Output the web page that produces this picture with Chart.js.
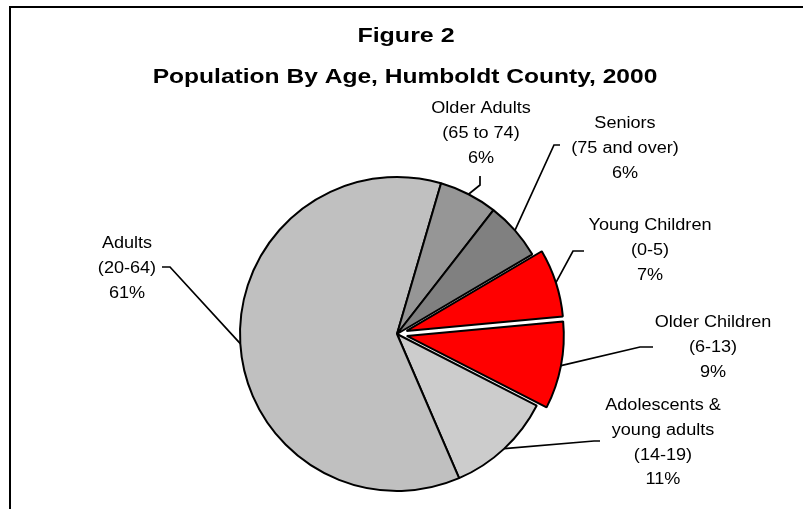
<!DOCTYPE html>
<html>
<head>
<meta charset="utf-8">
<script src="https://cdn.jsdelivr.net/npm/chart.js@4/dist/chart.umd.min.js"></script>
<style>
  html, body { margin: 0; padding: 0; background: #fff; }
  canvas { display: block; }
</style>
</head>
<body>
<canvas id="pie" width="803" height="509"></canvas>
<script>
// chart data
const categories = [
  ['Young Children', '(0-5)'],
  ['Older Children', '(6-13)'],
  ['Adolescents &', 'young adults', '(14-19)'],
  ['Adults', '(20-64)'],
  ['Older Adults', '(65 to 74)'],
  ['Seniors', '(75 and over)']
];
const percents = [7, 9, 11, 61, 6, 6];
const exploded = [true, true, false, false, false, false];
const titleLines = ['Figure 2', 'Population By Age, Humboldt County, 2000'];

// styling
const sliceColors = ['#FF0000', '#FF0000', '#CCCCCC', '#C0C0C0', '#969696', '#808080'];
const FONT = '"Liberation Sans", Arial, sans-serif';
const explodeDist = 10;

// where each label block sits and the elbow of its leader line
const labelLayout = [
  { x: 650, y: 230, leader: [[584, 251], [573, 251]] },
  { x: 713, y: 327, leader: [[653, 347], [640, 347]] },
  { x: 663, y: 410, leader: [[600, 441], [594, 441]] },
  { x: 127, y: 248, leader: [[162, 267], [170, 267]] },
  { x: 481, y: 113, leader: [[480, 176], [480, 185]] },
  { x: 625, y: 128, leader: [[560, 145], [554, 145]] }
];
const lineGap = 24.8;

function stretchedText(ctx, text, x, y, sx) {
  ctx.save();
  ctx.translate(x, y);
  ctx.scale(sx, 1);
  ctx.fillText(text, 0, 0);
  ctx.restore();
}

// draws the slices with the exploded ones pushed out along their mid angle
const explodePlugin = {
  id: 'explode',
  beforeDatasetDraw(chart, args) {
    const ctx = chart.ctx;
    args.meta.data.forEach((arc, i) => {
      const d = exploded[i] ? explodeDist : 0;
      const mid = (arc.startAngle + arc.endAngle) / 2;
      ctx.save();
      ctx.translate(Math.cos(mid) * d, Math.sin(mid) * d);
      arc.draw(ctx, chart.chartArea);
      ctx.restore();
    });
    return false;
  }
};

// frame, title, labels and leader lines
const decorPlugin = {
  id: 'decor',
  beforeDraw(chart) {
    const ctx = chart.ctx;
    ctx.save();
    ctx.fillStyle = '#fff';
    ctx.fillRect(0, 0, chart.width, chart.height);
    ctx.strokeStyle = '#000';
    ctx.lineWidth = 2;
    ctx.strokeRect(10, 7, 820, 540);
    ctx.restore();
  },
  afterDraw(chart) {
    const ctx = chart.ctx;
    const meta = chart.getDatasetMeta(0);
    ctx.save();
    ctx.fillStyle = '#000';
    ctx.textAlign = 'center';
    ctx.textBaseline = 'alphabetic';

    ctx.font = 'bold 21px ' + FONT;
    stretchedText(ctx, titleLines[0], 406, 42, 1.19);
    stretchedText(ctx, titleLines[1], 405, 83, 1.17);

    ctx.font = '16px ' + FONT;
    ctx.strokeStyle = '#000';
    ctx.lineWidth = 1.7;
    meta.data.forEach((arc, i) => {
      const lay = labelLayout[i];
      const lines = categories[i].concat([percents[i] + '%']);
      lines.forEach((t, k) => stretchedText(ctx, t, lay.x, lay.y + k * lineGap, 1.13));

      const mid = (arc.startAngle + arc.endAngle) / 2;
      const d = exploded[i] ? explodeDist : 0;
      const r = arc.outerRadius + d;
      const ex = arc.x + Math.cos(mid) * r;
      const ey = arc.y + Math.sin(mid) * r;
      ctx.beginPath();
      ctx.moveTo(lay.leader[0][0], lay.leader[0][1]);
      for (let k = 1; k < lay.leader.length; k++) ctx.lineTo(lay.leader[k][0], lay.leader[k][1]);
      ctx.lineTo(ex, ey);
      ctx.stroke();
    });
    ctx.restore();
  }
};

new Chart(document.getElementById('pie'), {
  type: 'pie',
  data: {
    labels: categories.map(c => c.join(' ')),
    datasets: [{
      data: percents,
      backgroundColor: sliceColors,
      borderColor: '#000',
      borderWidth: 2
    }]
  },
  options: {
    responsive: false,
    animation: false,
    rotation: 59.5,
    radius: 157,
    layout: { padding: { left: 0, right: 9, top: 159, bottom: 0 } },
    plugins: {
      legend: { display: false },
      tooltip: { enabled: false },
      title: { display: false }
    }
  },
  plugins: [explodePlugin, decorPlugin]
});
</script>
</body>
</html>
